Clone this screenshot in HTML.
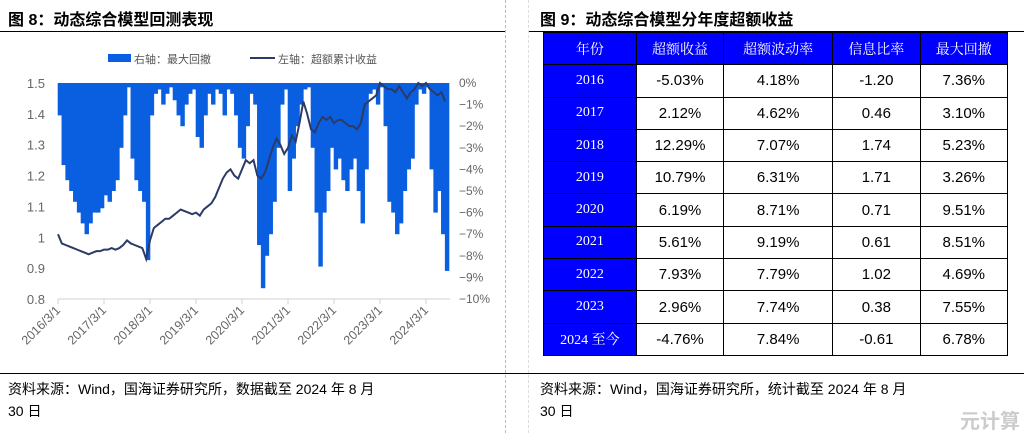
<!DOCTYPE html>
<html><head><meta charset="utf-8"><style>
body{margin:0;width:1024px;height:433px;background:#fff;position:relative;overflow:hidden;font-family:"Liberation Sans","Noto Sans CJK SC",sans-serif}
.abs{position:absolute}
.title{font-weight:bold;font-size:16px;color:#000;top:6px;white-space:nowrap}
.src{font-size:14px;color:#000;line-height:22px;white-space:nowrap}
table{border-collapse:collapse;position:absolute;left:543px;top:32px;width:465px}
td{border:1px solid #000;height:31.3px;padding:0;text-align:center;font-size:15px;color:#000}
td.h{background:#0000ff;color:#fff;font-family:"Liberation Serif","Noto Serif CJK SC",serif;font-size:14px}
</style></head><body>
<div class="abs title" style="left:8px">图 8：动态综合模型回测表现</div>
<div class="abs title" style="left:540px">图 9：动态综合模型分年度超额收益</div>
<div class="abs" style="left:0;top:31px;width:505px;height:1px;background:#000"></div>
<div class="abs" style="left:528px;top:31px;width:496px;height:1px;background:#000"></div>
<div class="abs" style="left:505px;top:0;height:433px;border-left:1px dashed #bbb"></div>
<div class="abs" style="left:528px;top:0;height:433px;border-left:1px dashed #ddd"></div>
<div class="abs" style="left:0;top:373px;width:1024px;height:1px;background:#000"></div>
<div class="abs src" style="left:8px;top:378px">资料来源：Wind，国海证券研究所，数据截至 2024 年 8 月<br>30 日</div>
<div class="abs src" style="left:540px;top:378px">资料来源：Wind，国海证券研究所，统计截至 2024 年 8 月<br>30 日</div>
<div class="abs" style="left:960px;top:405px;font-size:20px;font-weight:bold;color:#ccc">元计算</div>

<svg class="abs" style="left:0;top:0" width="505" height="370" id="chart"></svg>

<table>
<tr><td class="h">年份</td><td class="h">超额收益</td><td class="h">超额波动率</td><td class="h">信息比率</td><td class="h">最大回撤</td></tr>
<tr><td class="h">2016</td><td>-5.03%</td><td>4.18%</td><td>-1.20</td><td>7.36%</td></tr>
<tr><td class="h">2017</td><td>2.12%</td><td>4.62%</td><td>0.46</td><td>3.10%</td></tr>
<tr><td class="h">2018</td><td>12.29%</td><td>7.07%</td><td>1.74</td><td>5.23%</td></tr>
<tr><td class="h">2019</td><td>10.79%</td><td>6.31%</td><td>1.71</td><td>3.26%</td></tr>
<tr><td class="h">2020</td><td>6.19%</td><td>8.71%</td><td>0.71</td><td>9.51%</td></tr>
<tr><td class="h">2021</td><td>5.61%</td><td>9.19%</td><td>0.61</td><td>8.51%</td></tr>
<tr><td class="h">2022</td><td>7.93%</td><td>7.79%</td><td>1.02</td><td>4.69%</td></tr>
<tr><td class="h">2023</td><td>2.96%</td><td>7.74%</td><td>0.38</td><td>7.55%</td></tr>
<tr><td class="h">2024 至今</td><td>-4.76%</td><td>7.84%</td><td>-0.61</td><td>6.78%</td></tr>
</table>

<script>
const xLabels=["2016/3/1","2017/3/1","2018/3/1","2019/3/1","2020/3/1","2021/3/1","2022/3/1","2023/3/1","2024/3/1"];
const leftTicks=[1.5,1.4,1.3,1.2,1.1,1,0.9,0.8];
const rightTicks=[0,-1,-2,-3,-4,-5,-6,-7,-8,-9,-10];
// monthly from 2016-03
const excessCum=[1.01,0.98,0.975,0.97,0.965,0.96,0.955,0.95,0.945,0.95,
0.955,0.955,0.96,0.96,0.965,0.96,0.965,0.975,0.99,0.98,0.975,0.97,
0.965,0.93,0.99,1.03,1.04,1.05,1.06,1.06,1.07,1.08,1.09,1.085,
1.08,1.075,1.08,1.07,1.09,1.1,1.11,1.13,1.16,1.19,1.21,1.22,
1.2,1.19,1.22,1.25,1.24,1.25,1.2,1.19,1.21,1.25,1.29,1.32,
1.3,1.27,1.29,1.33,1.31,1.37,1.44,1.4,1.35,1.34,1.37,1.39,
1.38,1.39,1.37,1.38,1.38,1.37,1.36,1.36,1.35,1.37,1.43,1.44,
1.45,1.46,1.5,1.49,1.48,1.48,1.47,1.49,1.47,1.45,1.47,1.48,
1.5,1.49,1.5,1.48,1.47,1.46,1.47,1.44];
const drawdown=[-1.5,-3.8,-4.5,-5,-5.5,-6,-6.5,-7,-6.5,-6,
-6,-5.8,-5.2,-5.5,-5,-4.5,-3,-1.5,-0.2,-3.5,-4.5,-5,
-5.5,-8.2,-1.5,-0.5,-0.3,-1,-0.5,-0.2,-0.8,-1.5,-2,-1,
-0.5,-0.3,-2.5,-3,-1.5,-0.5,-1,-0.3,-0.5,-1.5,-0.3,-0.5,
-1.5,-3,-3.5,-2,-0.5,-1,-7.5,-9.5,-8,-7,-5.5,-3,
-1,-0.3,-5,-3.5,-2,-1,-0.3,-0.2,-3,-6,-8.5,-6,
-5,-3,-4,-3.5,-4.5,-5,-4,-3.5,-5,-6.5,-4,-0.5,
-0.3,-1,-0.2,-2,-5.5,-6,-7,-6.5,-5,-4,-3.5,-1,
-0.3,-0.5,-0.2,-4,-6,-5,-7,-8.7];

const svg=document.getElementById('chart');
const NS='http://www.w3.org/2000/svg';
const X0=58,X1=450,Y0=83,Y1=299;
const xm=i=>X0+i*(46/12);
const yl=v=>Y1-(v-0.8)/(0.7)*(Y1-Y0);
const yr=v=>Y0+(-v)/10*(Y1-Y0);
function mk(t,a,name){const e=document.createElementNS(NS,t);for(const k in a)e.setAttribute(k,a[k]);


svg.appendChild(e);return e;}
drawdown.forEach((v,i)=>{
 mk('rect',{x:xm(i)-0.3,y:Y0,width:46/12+0.6,height:yr(v)-Y0,fill:'#0a5fe0'},'drawdown-bar');
});
mk('line',{x1:X0,y1:Y1,x2:X1,y2:Y1,stroke:'#d0d0d0'},'x-axis');
xLabels.forEach((l,i)=>{
 const x=xm(i*12);
 mk('line',{x1:x,y1:Y1,x2:x,y2:Y1+5,stroke:'#d0d0d0'},'x-tick');
 const t=mk('text',{x:x+3,y:Y1+12,'text-anchor':'end','font-size':12.5,fill:'#666',transform:`rotate(-45 ${x+3} ${Y1+12})`},'x-tick-label');
 t.textContent=l;
});
leftTicks.forEach(v=>{
 const t=mk('text',{x:45,y:yl(v)+5,'text-anchor':'end','font-size':13,fill:'#666'},'left-tick-label');
 t.textContent=String(v);
});
rightTicks.forEach(v=>{
 const t=mk('text',{x:459,y:yr(v)+4,'font-size':12,fill:'#666'},'right-tick-label');
 t.textContent=(v===0?'0':'−'+(-v))+'%';
});
mk('polyline',{points:excessCum.map((v,i)=>xm(i)+','+yl(v)).join(' '),fill:'none',stroke:'#2c3a66','stroke-width':2},'excess-cum-line');
mk('rect',{x:108,y:54,width:23,height:8,fill:'#0a5fe0'},'legend-drawdown-swatch');
let t=mk('text',{x:134,y:63,'font-size':11,fill:'#555'},'legend-drawdown-label');t.textContent='右轴：最大回撤';
mk('line',{x1:250,y1:58,x2:275,y2:58,stroke:'#2c3a66','stroke-width':2},'legend-line-swatch');
t=mk('text',{x:278,y:63,'font-size':11,fill:'#555'},'legend-line-label');t.textContent='左轴：超额累计收益';
</script>
</body></html>
